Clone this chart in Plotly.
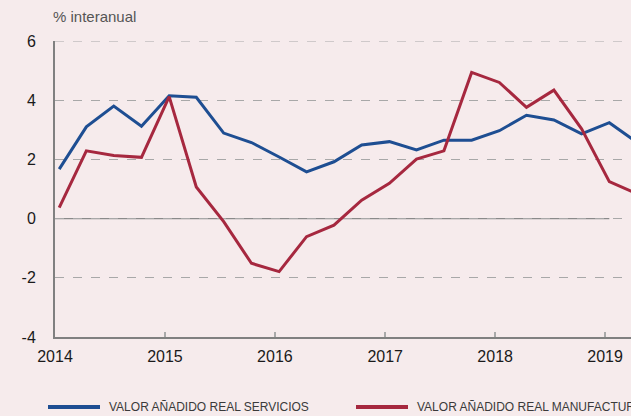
import plotly.graph_objects as go

quarters = ["2014-01-15", "2014-04-15", "2014-07-15", "2014-10-15",
            "2015-01-15", "2015-04-15", "2015-07-15", "2015-10-15",
            "2016-01-15", "2016-04-15", "2016-07-15", "2016-10-15",
            "2017-01-15", "2017-04-15", "2017-07-15", "2017-10-15",
            "2018-01-15", "2018-04-15", "2018-07-15", "2018-10-15",
            "2019-01-15", "2019-04-15"]
servicios = [1.67, 3.10, 3.80, 3.12, 4.15, 4.10, 2.89, 2.57,
             2.08, 1.58, 1.92, 2.49, 2.60, 2.32, 2.65, 2.65,
             2.97, 3.49, 3.33, 2.86, 3.24, 2.59]
manufacturas = [0.37, 2.29, 2.13, 2.07, 4.12, 1.07, -0.10, -1.51,
                -1.79, -0.61, -0.22, 0.62, 1.19, 2.01, 2.29, 4.94,
                4.60, 3.76, 4.34, 3.03, 1.25, 0.85]
year_ticks = ["2014-01-01", "2015-01-01", "2016-01-01", "2017-01-01", "2018-01-01", "2019-01-01"]
year_labels = ["2014", "2015", "2016", "2017", "2018", "2019"]
y_ticks = [-4, -2, 0, 2, 4, 6]
names = ["VALOR AÑADIDO REAL SERVICIOS", "VALOR AÑADIDO REAL MANUFACTURAS"]

BLUE = "#1E4E92"
RED = "#A6283F"
BG = "#F6EBEC"
AX = "#808080"

fig = go.Figure()
fig.add_shape(type="line", xref="x", yref="y", x0="2014-01-01", x1=quarters[20], y0=0, y1=0,
              line=dict(color="#8a8a8a", width=1.2), layer="below")
fig.add_shape(type="line", xref="paper", yref="y", x0=0, x1=1, y0=6, y1=6,
              line=dict(color="#a8a8a8", width=1, dash="dash"), layer="below")
fig.add_trace(go.Scatter(x=quarters, y=servicios, mode="lines", name=names[0],
                         line=dict(color=BLUE, width=3), showlegend=False))
fig.add_trace(go.Scatter(x=quarters, y=manufacturas, mode="lines", name=names[1],
                         line=dict(color=RED, width=3), showlegend=False))

# legend drawn manually (the original is clipped on the right)
leg = [(48, 100, 107, BLUE, names[0]), (356, 408, 415, RED, names[1])]
for x0, x1, xt, col, txt in leg:
    fig.add_shape(type="line", xref="paper", yref="paper",
                  x0=(x0 - 55) / 576, x1=(x1 - 55) / 576,
                  y0=(337 - 407) / 296, y1=(337 - 407) / 296,
                  line=dict(color=col, width=4))
    fig.add_annotation(xref="paper", yref="paper", x=(xt - 55) / 576, y=(337 - 407) / 296,
                       xanchor="left", yanchor="middle", showarrow=False, text=txt,
                       font=dict(family="Liberation Sans, Arial", size=12, color="#3a3a3a"))

fig.add_annotation(xref="paper", yref="paper", x=(51 - 55) / 576, y=(337 - 17) / 296,
                   xanchor="left", yanchor="middle", showarrow=False, text="% interanual",
                   font=dict(family="Liberation Sans, Arial", size=15, color="#555555"))

fig.update_layout(
    width=631, height=416,
    margin=dict(l=55, r=0, t=41, b=79),
    paper_bgcolor=BG, plot_bgcolor=BG,
    font=dict(family="Liberation Sans, Arial", size=16, color="#1a1a1a"),
    xaxis=dict(type="date", range=["2014-01-01", "2019-03-28"],
               tickvals=year_ticks, ticktext=year_labels,
               showgrid=False, zeroline=False, showline=True, linecolor=AX, linewidth=2,
               ticks="inside", ticklen=5, tickcolor="#aaaaaa", tickwidth=1.5,
               ticklabelstandoff=4),
    yaxis=dict(range=[-4, 6], tickvals=y_ticks, ticktext=[str(v) for v in y_ticks],
               showgrid=True, gridcolor="#a8a8a8", griddash="dash", gridwidth=1,
               zeroline=False, showline=True, linecolor=AX, linewidth=2,
               ticks="", ticklabelstandoff=14),
)

fig.write_html("out.html", config={"displayModeBar": False},
               post_script="document.body.style.margin='0';document.body.style.background='" + BG + "';")
